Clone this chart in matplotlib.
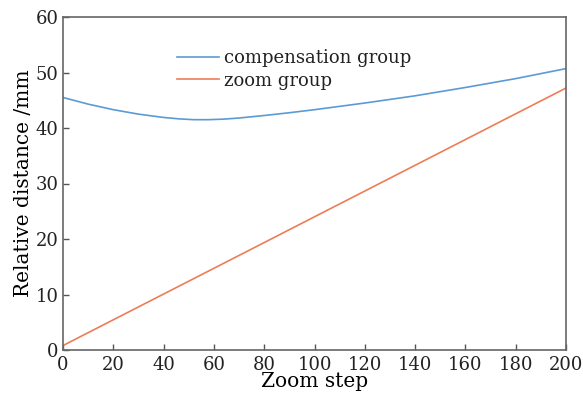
import matplotlib
matplotlib.use("Agg")
import matplotlib.pyplot as plt

steps = [0, 10, 20, 30, 40, 46, 52, 58, 64, 70, 80, 90, 100, 120, 140, 160, 180, 200]
compensation = [45.5, 44.3, 43.3, 42.5, 41.9, 41.65, 41.5, 41.5, 41.6, 41.8, 42.25, 42.75,
                43.3, 44.5, 45.8, 47.3, 48.9, 50.7]
zoom_steps = [0, 200]
zoom = [0.8, 47.2]

plt.rcParams['font.family'] = ['DejaVu Serif']
plt.rcParams['text.color'] = '#222222'

fig = plt.figure(figsize=(5.83, 3.99), dpi=100)
ax = fig.add_axes([63/583, 1 - 350/399, (566-63)/583, (350-17)/399])

ax.plot(steps, compensation, color='#5B9BD5', lw=1.2, label='compensation group')
ax.plot(zoom_steps, zoom, color='#ED7D57', lw=1.2, label='zoom group')

ax.set_xlim(0, 200)
ax.set_ylim(0, 60)
ax.set_xticks(range(0, 201, 20))
ax.set_yticks(range(0, 61, 10))
ax.tick_params(direction='in', length=4, width=1, color='#555555', labelsize=13,
               labelcolor='#222222', top=False, right=False)
ax.tick_params(axis='x', pad=4)
ax.tick_params(axis='y', pad=3)
for s in ax.spines.values():
    s.set_color('#666666')
    s.set_linewidth(1.2)

ax.set_xlabel('Zoom step', fontsize=14.5, labelpad=-1)
ax.set_ylabel('Relative distance /mm', fontsize=14.5, labelpad=2)

ax.legend(loc='upper left', bbox_to_anchor=(0.213, 0.925), frameon=False, fontsize=13,
          handlelength=2.3, handletextpad=0.3, labelspacing=0.25, borderaxespad=0)

fig.savefig('out.png', dpi=100)
